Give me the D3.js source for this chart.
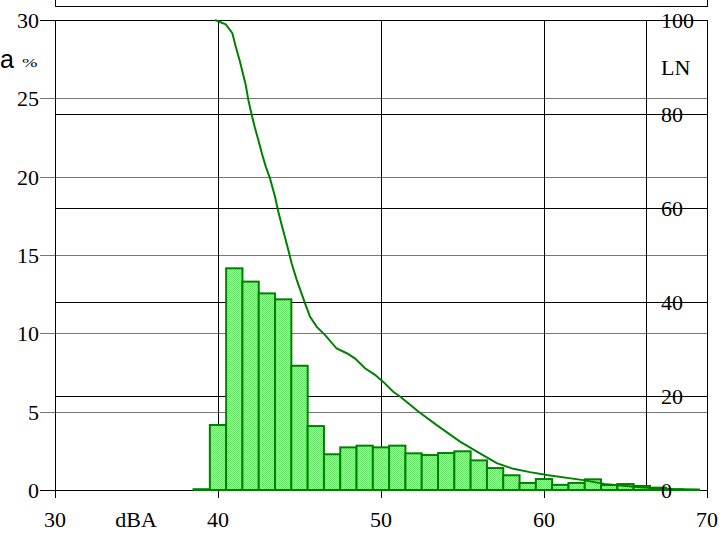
<!DOCTYPE html>
<html>
<head>
<meta charset="utf-8">
<script src="https://cdn.jsdelivr.net/npm/d3@7/dist/d3.min.js"></script>
<style>
  body { margin: 0; background: #fff; }
  svg { display: block; }
  text { font-family: "Liberation Serif", "Times New Roman", serif; fill: #000; }
</style>
</head>
<body>
<div id="chart"></div>
<script>
// histogram: level class (dBA, bin centre) and share of time (%)
const levels = [39, 40, 41, 42, 43, 44, 45, 46, 47, 48, 49, 50, 51, 52, 53, 54,
                55, 56, 57, 58, 59, 60, 61, 62, 63, 64, 65, 66, 67, 68, 69];
const shares = [0.05, 4.15, 14.15, 13.3, 12.55, 12.17, 7.93, 4.08, 2.28, 2.72, 2.83, 2.72, 2.83, 2.34, 2.23, 2.36,
                2.47, 1.89, 1.4, 0.94, 0.45, 0.7, 0.33, 0.45, 0.68, 0.32, 0.38, 0.26, 0.15, 0.05, 0.03];

// LN curve (percent of time the level is exceeded)
const lnLevels = [39.82, 40.47, 40.88, 41.09, 41.35, 41.55, 41.70, 41.86, 42.07, 42.27, 42.47, 42.72, 42.93,
                  43.19, 43.50, 43.70, 43.91, 44.31, 44.52, 44.83, 45.34, 45.64, 46.06, 46.56, 47.28, 47.90,
                  48.40, 49.02, 49.63, 50.14, 50.75, 51.17, 52.29, 53.42, 54.85, 56.07, 57.10, 58.12, 59.14,
                  60.17, 62.41, 63.85, 65.89, 67.93, 69.57];
const lnValues = [100, 99.1, 97.2, 94.3, 91.1, 88.3, 86.2, 83.0, 79.8, 77.0, 74.5, 71.3, 68.8,
                  66.3, 62.4, 59.2, 56.4, 51.1, 48.2, 44.7, 39.7, 36.9, 34.7, 33.0, 30.1, 29.1,
                  28.0, 25.9, 24.5, 23.0, 20.9, 19.9, 16.7, 13.8, 10.3, 7.8, 5.7, 4.5, 3.8,
                  3.2, 2.1, 1.2, 0.6, 0.15, 0];

const xTicks = [30, 40, 50, 60, 70];
const leftTicks = [0, 5, 10, 15, 20, 25, 30];
const rightTicks = [0, 20, 40, 60, 80, 100];

const W = 722, H = 533;
const plotLeft = 55, plotRight = 707, plotTop = 20, plotBottom = 490;
const rightAxisX = 646;

const svg = d3.select('#chart').append('svg')
    .attr('width', W).attr('height', H);

// dithered light green fill
const pat = svg.append('defs').append('pattern')
    .attr('id', 'dots').attr('width', 2).attr('height', 2)
    .attr('patternUnits', 'userSpaceOnUse');
pat.append('rect').attr('width', 2).attr('height', 2).attr('fill', '#b4ffb4');
pat.append('rect').attr('width', 1).attr('height', 1).attr('fill', '#5fe85f');
pat.append('rect').attr('x', 1).attr('y', 1).attr('width', 1).attr('height', 1).attr('fill', '#5fe85f');

const x = d3.scaleLinear().domain([30, 70]).range([plotLeft, plotRight]);
const yL = d3.scaleLinear().domain([0, 30]).range([plotBottom, plotTop]);
const yR = d3.scaleLinear().domain([0, 100]).range([plotBottom, plotTop]);

// box above the plot
svg.append('rect')
    .attr('x', plotLeft + 0.5).attr('y', -1)
    .attr('width', plotRight - plotLeft).attr('height', 7.5)
    .attr('fill', 'none').attr('stroke', '#000');

// left-axis grid (grey), with outside ticks
svg.append('g').selectAll('line')
    .data(leftTicks)
    .enter().append('line')
    .attr('x1', 40).attr('x2', plotRight)
    .attr('y1', d => Math.round(yL(d)) + 0.5).attr('y2', d => Math.round(yL(d)) + 0.5)
    .attr('stroke', d => (d === 0 || d === 30) ? '#000' : '#777');

// right-axis grid (black)
svg.append('g').selectAll('line')
    .data(rightTicks.filter(d => d > 0 && d < 100))
    .enter().append('line')
    .attr('x1', plotLeft).attr('x2', plotRight)
    .attr('y1', d => Math.round(yR(d)) + 0.5).attr('y2', d => Math.round(yR(d)) + 0.5)
    .attr('stroke', '#000');

// vertical grid + bottom ticks
svg.append('g').selectAll('line')
    .data(xTicks)
    .enter().append('line')
    .attr('x1', d => Math.round(x(d)) + 0.5).attr('x2', d => Math.round(x(d)) + 0.5)
    .attr('y1', plotTop).attr('y2', plotBottom + 8)
    .attr('stroke', '#000');

svg.append('line')
    .attr('x1', rightAxisX + 0.5).attr('x2', rightAxisX + 0.5)
    .attr('y1', plotTop).attr('y2', plotBottom)
    .attr('stroke', '#000');

// bars
svg.append('g').selectAll('rect')
    .data(levels.map((l, i) => ({ level: l, share: shares[i] })))
    .enter().append('rect')
    .attr('x', d => x(d.level - 0.5))
    .attr('width', d => x(d.level + 0.5) - x(d.level - 0.5))
    .attr('y', d => yL(d.share))
    .attr('height', d => plotBottom - yL(d.share))
    .attr('fill', 'url(#dots)')
    .attr('stroke', '#008000')
    .attr('stroke-width', 2);

// LN curve
const line = d3.line()
    .x(d => x(d[0]))
    .y(d => yR(d[1]));

svg.append('path')
    .datum(lnLevels.map((l, i) => [l, lnValues[i]]))
    .attr('d', line)
    .attr('fill', 'none')
    .attr('stroke', '#008000')
    .attr('stroke-width', 2);

// left tick labels
svg.append('g').selectAll('text')
    .data(leftTicks)
    .enter().append('text')
    .attr('x', 39).attr('y', d => yL(d))
    .attr('dy', '0.36em')
    .attr('text-anchor', 'end')
    .style('font-size', '22px')
    .text(d => d);

// right tick labels
svg.append('g').selectAll('text')
    .data(rightTicks)
    .enter().append('text')
    .attr('x', 661).attr('y', d => yR(d))
    .attr('dy', '0.38em')
    .style('font-size', '22px')
    .text(d => d);

// bottom tick labels
svg.append('g').selectAll('text')
    .data(xTicks)
    .enter().append('text')
    .attr('x', d => x(d)).attr('y', 527)
    .attr('text-anchor', 'middle')
    .style('font-size', '22px')
    .text(d => d);

// axis titles
svg.append('text')
    .attr('x', 136).attr('y', 527)
    .attr('text-anchor', 'middle')
    .style('font-size', '22px')
    .text('dBA');

svg.append('text')
    .attr('x', 661).attr('y', 75)
    .style('font-size', '22px')
    .text('LN');

svg.append('text')
    .attr('x', 14).attr('y', 68)
    .attr('text-anchor', 'end')
    .style('font-family', '"Liberation Sans", Arial, sans-serif')
    .style('font-size', '25px')
    .text('a');

svg.append('text')
    .attr('x', 22).attr('y', 67)
    .attr('textLength', 15.5)
    .attr('lengthAdjust', 'spacingAndGlyphs')
    .style('font-size', '13px')
    .text('%');
</script>
</body>
</html>
